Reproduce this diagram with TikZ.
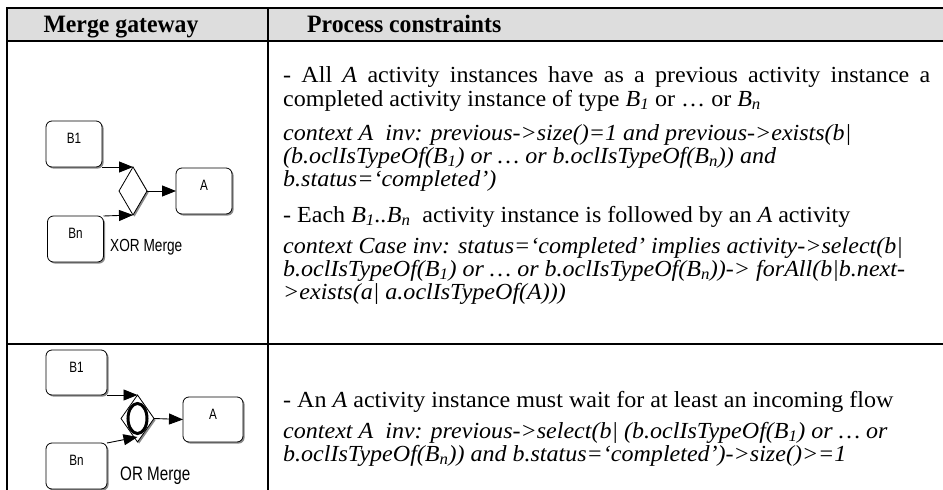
\documentclass[tikz,border=0pt]{standalone}
\usepackage{fontspec}
\usepackage{graphicx}
\setmainfont[FakeStretch=1.045]{Liberation Serif}
\newfontfamily\bpmnfont[FakeStretch=0.78]{Liberation Sans}
\newfontfamily\hdrfont[FakeStretch=0.95]{Liberation Serif}
\usetikzlibrary{shapes.geometric,arrows.meta,shadows,calc}
\definecolor{hdrgray}{HTML}{DDDDDD}
\definecolor{shadowgray}{HTML}{8A8A8A}
\tikzset{
  rule/.style={line width=2pt},
  softshadow/.style={drop shadow={shadow xshift=1.6pt, shadow yshift=-1.6pt, fill=shadowgray, opacity=1}},
  task/.style={draw, line width=0.8pt, rounded corners=6pt, fill=white, inner sep=0pt, outer sep=0pt, softshadow},
  gate/.style={diamond, draw, line width=0.8pt, fill=white, inner sep=0pt, outer sep=0pt, softshadow},
  flow/.style={line width=0.9pt, -{Triangle[length=14pt,width=11pt]}},
  body/.style={anchor=base west, inner sep=0pt, font=\fontsize{23}{23}\selectfont},
  ocl/.style={body, font=\fontsize{23}{23}\selectfont\itshape},
  hdr/.style={anchor=base, inner sep=0pt, font=\hdrfont\fontsize{25}{27}\selectfont\bfseries},
  tlabel/.style={anchor=base, inner sep=0pt, font=\bpmnfont\fontsize{15}{17}\selectfont},
  gname/.style={anchor=base west, inner sep=0pt}
}
\begin{document}
\begin{tikzpicture}[x=1pt,y=-1pt]
\useasboundingbox (0,0) rectangle (943,490);
% header background
\fill[hdrgray] (7,8) rectangle (943,41);
% table rules
\draw[rule] (6,8) -- (943,8);
\draw[rule] (6,41) -- (943,41);
\draw[rule] (6,344) -- (943,344);
\draw[rule] (7,7) -- (7,490);
\draw[rule] (268,7) -- (268,490);
% header texts
\node[hdr] (h1) at (121,32) {Merge gateway};
\node[hdr, anchor=base west] (h2) at (307,32) {Process constraints};

% ---------- row 1 : XOR merge ----------
\node[task, minimum width=56pt, minimum height=46pt] (b1a) at (74,144) {};
\node[task, minimum width=56pt, minimum height=46pt] (bna) at (75.5,239) {};
\node[task, minimum width=56pt, minimum height=46pt] (aa) at (204,191) {};
\node[gate, minimum width=28pt, minimum height=48pt] (d1) at (133,191) {};
\node[tlabel] (b1aT) at ($(b1a.north)+(0,22)$) {B1};
\node[tlabel] (bnaT) at ($(bna.north)+(0,22)$) {Bn};
\node[tlabel] (aaT) at ($(aa.north)+(0,22)$) {A};
\node[gname, font=\bpmnfont\fontsize{17.5}{19}\selectfont] (xorT) at (110,251) {XOR Merge};
\draw[flow] (b1a.south east) -- (d1.north);
\draw[flow] (bna.north east) -- (d1.south);
\draw[flow] (d1.east) -- (aa.west);

% ---------- row 2 : OR merge ----------
\node[task, minimum width=61pt, minimum height=45pt] (b1b) at (76.5,372.5) {};
\node[task, minimum width=61pt, minimum height=46pt] (bnb) at (76.5,466) {};
\node[task, minimum width=60pt, minimum height=45pt] (ab) at (213,419.5) {};
\node[gate, minimum width=33pt, minimum height=47pt] (d2) at (137.5,418.5) {};
\draw[line width=3pt] (d2.center) ellipse [x radius=9.5, y radius=15];
\node[tlabel] (b1bT) at ($(b1b.north)+(0,22)$) {B1};
\node[tlabel] (bnbT) at ($(bnb.north)+(0,22)$) {Bn};
\node[tlabel] (abT) at ($(ab.north)+(0,22)$) {A};
\node[gname, font=\bpmnfont\fontsize{19.5}{21}\selectfont] (orT) at (120,480) {OR Merge};
\draw[flow] (b1b.south east) -- (d2.north);
\draw[flow] (bnb.north east) -- ($(d2.south)+(0,-5)$);
\draw[flow] (d2.east) -- (ab.west);

% ---------- constraint texts ----------
\node[body] (t1) at (283,82) {\makebox[647pt][s]{- All \textit{A} activity instances have as a previous activity instance a}};
\node[body] (t2) at (283,106) {completed activity instance of type \textit{B\textsubscript{1}} or … or \textit{B\textsubscript{n}}};
\node[ocl] (t3) at (283,140) {context A\ \ inv: previous->size()=1 and previous->exists(b|};
\node[ocl] (t4) at (283,163) {(b.oclIsTypeOf(B\textsubscript{1}) or … or b.oclIsTypeOf(B\textsubscript{n})) and};
\node[ocl] (t5) at (283,186) {b.status=‘completed’)};
\node[body] (t6) at (283,222) {- Each \textit{B\textsubscript{1}..B\textsubscript{n}}\ \ activity instance is followed by an \textit{A} activity};
\node[ocl] (t7) at (283,253) {context Case inv: status=‘completed’ implies activity->select(b|};
\node[ocl] (t8) at (283,276) {b.oclIsTypeOf(B\textsubscript{1}) or … or b.oclIsTypeOf(B\textsubscript{n}))-> forAll(b|b.next-};
\node[ocl] (t9) at (283,299) {>exists(a| a.oclIsTypeOf(A)))};
\node[body] (t10) at (283,407) {- An \textit{A} activity instance must wait for at least an incoming flow};
\node[ocl] (t11) at (283,438) {context A\ \ inv: previous->select(b| (b.oclIsTypeOf(B\textsubscript{1}) or … or};
\node[ocl] (t12) at (283,461) {b.oclIsTypeOf(B\textsubscript{n})) and b.status=‘completed’)->size()>=1};
\end{tikzpicture}
\end{document}
